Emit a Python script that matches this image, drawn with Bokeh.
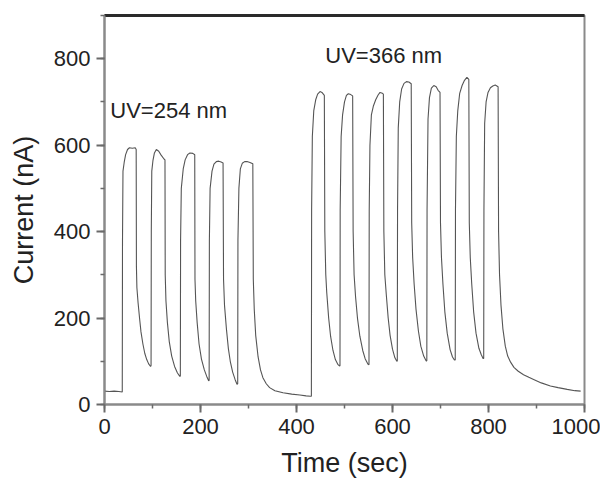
from bokeh.plotting import figure
from bokeh.models import SingleIntervalTicker, FixedTicker, LinearAxis, Label
from bokeh.embed import file_html
from bokeh.resources import INLINE

# ---- data (time in s, current in nA) ----
time_s = [
    0, 10, 20, 30, 37,
    # UV = 254 nm pulses
    37.5, 38.5, 41, 44, 48, 52, 58, 64, 66,
    66.5, 67.5, 70, 73, 76, 80, 84, 88, 92, 96,
    97, 97.5, 98.5, 101, 104, 108, 113, 118, 124, 126,
    126.5, 128, 131, 135, 140, 146, 152, 157,
    158, 158.5, 160, 164, 168, 173, 178, 184, 188,
    188.5, 190, 193, 197, 202, 208, 213, 217,
    218, 218.5, 220, 224, 228, 233, 238, 243, 247,
    248, 250, 254, 258, 262, 267, 272, 276,
    277.5, 278, 280, 283, 287, 292, 297, 303, 309,
    310, 312, 315, 320, 325, 330, 337, 344, 355, 372, 390, 407, 420, 429,
    # UV = 366 nm pulses
    431, 431.5, 433, 436, 440, 444, 449, 453, 458,
    459, 461, 463, 467, 471, 476, 481, 486, 490,
    490.6, 491, 493, 496, 500, 504, 508, 513, 517,
    518, 520, 523, 527, 532, 538, 543, 549,
    551, 551.5, 553, 556, 560, 565, 570, 574, 579, 581,
    582, 584, 587, 591, 595, 600, 605, 609,
    610, 610.5, 612, 615, 619, 624, 629, 634, 639,
    640, 642, 645, 649, 654, 659, 665, 670,
    671.5, 672, 674, 677, 681, 686, 691, 695, 699,
    700, 702, 705, 709, 714, 720, 725, 729,
    730.7, 731.2, 733, 736, 740, 745, 750, 755, 759,
    760, 762, 765, 769, 774, 780, 785, 789,
    790, 790.5, 792, 795, 799, 804, 809, 814, 820,
    821, 823, 826, 830, 835, 840, 846, 853, 862, 873, 884, 894, 910, 929, 945, 964, 980, 992,
]
current_nA = [
    31, 30, 31, 30, 29,
    380, 540, 560, 578, 590, 594, 593, 594, 590,
    320, 270, 235, 200, 168, 140, 118, 104, 94, 88,
    90, 400, 540, 565, 582, 590, 586, 577, 568, 566,
    300, 240, 190, 145, 112, 88, 73, 65,
    66, 380, 500, 545, 566, 578, 582, 581, 578,
    290, 240, 190, 140, 105, 80, 65, 55,
    56, 380, 500, 540, 556, 562, 563, 561, 559,
    290, 230, 175, 130, 100, 75, 58, 47,
    48, 380, 500, 545, 558, 562, 562, 560, 557,
    290, 220, 160, 110, 80, 62, 48, 39, 32, 27, 24, 22, 20, 19,
    19, 450, 620, 680, 705, 718, 724, 722, 715,
    400, 300, 259, 200, 158, 125, 104, 93, 89,
    90, 450, 620, 670, 700, 715, 719, 717, 714,
    400, 300, 250, 200, 158, 125, 106, 93,
    92, 450, 600, 670, 690, 705, 716, 722, 720, 718,
    400, 300, 255, 200, 160, 128, 108, 100,
    101, 450, 640, 700, 730, 743, 747, 746, 742,
    420, 340, 280, 220, 170, 135, 112, 101,
    101, 450, 660, 710, 732, 738, 735, 727, 722,
    420, 340, 280, 215, 165, 127, 110, 103,
    103, 450, 620, 680, 720, 738, 750, 757, 752,
    420, 340, 280, 215, 165, 130, 115, 106,
    107, 450, 650, 700, 722, 733, 737, 739, 735,
    400, 300, 230, 175, 135, 112, 98, 86, 77, 69, 63, 58, 50, 43, 39, 35, 32, 31,
]

x_ticks_interval = 200
y_ticks_interval = 200
annotation_texts = ["UV=254 nm", "UV=366 nm"]
annotation_x = [12, 460]
annotation_y = [681, 808]

FONT = "Liberation Sans"

p = figure(width=600, height=480, x_range=(0, 1000), y_range=(0, 900),
           output_backend="svg", toolbar_location=None,
           min_border_left=104, min_border_right=16, min_border_top=15,
           min_border_bottom=76)
p.grid.visible = False
p.background_fill_color = "white"
p.border_fill_color = "white"
p.outline_line_color = "#8a8a8a"
p.outline_line_width = 2

p.line(time_s, current_nA, line_color="#555555", line_width=1.1)

for ax, interval in ((p.xaxis[0], x_ticks_interval), (p.yaxis[0], y_ticks_interval)):
    ax.ticker = SingleIntervalTicker(interval=interval, num_minor_ticks=2)
    ax.axis_line_color = "#8a8a8a"
    ax.axis_line_width = 2
    ax.major_tick_line_color = "#6a6a6a"
    ax.minor_tick_line_color = "#6a6a6a"
    ax.major_tick_line_width = 2
    ax.minor_tick_line_width = 1.5
    ax.major_tick_in = 0
    ax.major_tick_out = 8
    ax.minor_tick_in = 0
    ax.minor_tick_out = 4
    ax.major_label_text_font = FONT
    ax.major_label_text_font_size = "22px"
    ax.major_label_text_color = "#222222"
    ax.major_label_standoff = 6
    ax.axis_label_text_font = FONT
    ax.axis_label_text_font_size = "27px"
    ax.axis_label_text_font_style = "normal"
    ax.axis_label_text_color = "#222222"

p.xaxis.axis_label_standoff = 11
p.yaxis.axis_label_standoff = 12
p.xaxis.axis_label = "Time (sec)"
p.yaxis.axis_label = "Current (nA)"

top = LinearAxis(ticker=FixedTicker(ticks=[]), axis_line_color="#2a2a2a",
                 axis_line_width=3, major_label_text_font_size="0px",
                 major_tick_out=0, minor_tick_out=0)
p.add_layout(top, "above")

for txt, xx, yy in zip(annotation_texts, annotation_x, annotation_y):
    p.add_layout(Label(x=xx, y=yy, text=txt, text_font=FONT,
                       text_font_size="22px", text_color="#222222",
                       text_baseline="alphabetic"))

open("out.html", "w").write(file_html(p, INLINE))
